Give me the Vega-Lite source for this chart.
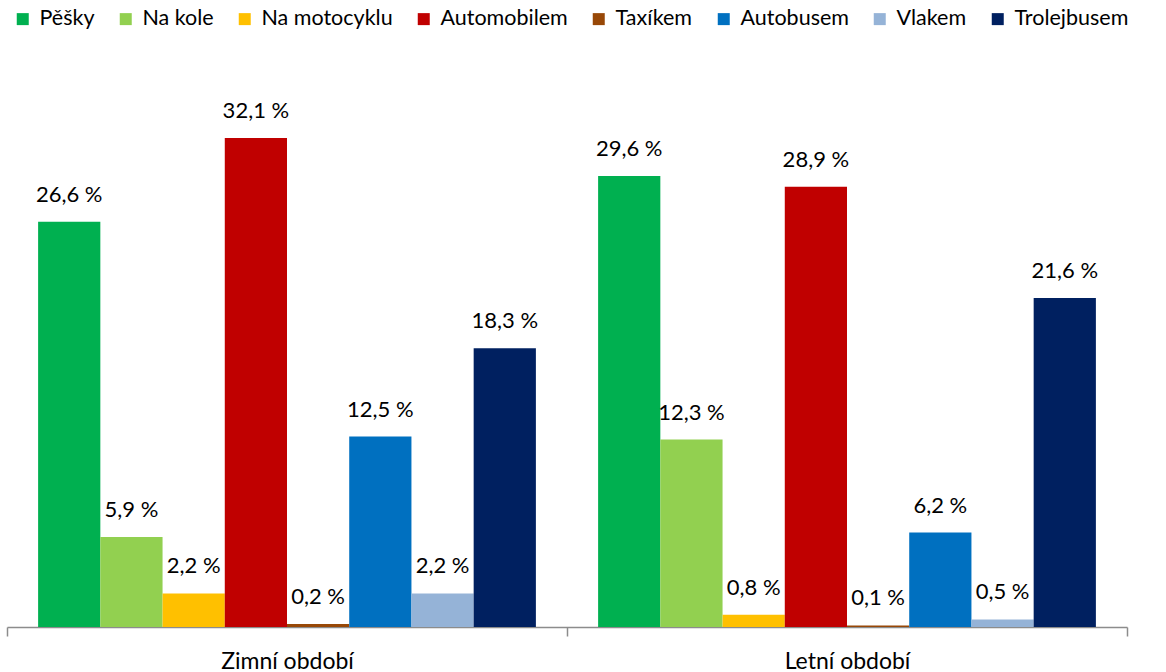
{
  "$schema": "https://vega.github.io/schema/vega-lite/v6.json",
  "width": 1120,
  "height": 579,
  "autosize": {"type": "none"},
  "padding": {"left": 7, "top": 48, "right": 39, "bottom": 45},
  "background": "white",
  "config": {
    "view": {"stroke": null},
    "font": "Lato"
  },
  "data": {
    "values": [
      {"obdobi": "Zimní období", "druh": "Pěšky", "v": 26.6},
      {"obdobi": "Zimní období", "druh": "Na kole", "v": 5.9},
      {"obdobi": "Zimní období", "druh": "Na motocyklu", "v": 2.2},
      {"obdobi": "Zimní období", "druh": "Automobilem", "v": 32.1},
      {"obdobi": "Zimní období", "druh": "Taxíkem", "v": 0.2},
      {"obdobi": "Zimní období", "druh": "Autobusem", "v": 12.5},
      {"obdobi": "Zimní období", "druh": "Vlakem", "v": 2.2},
      {"obdobi": "Zimní období", "druh": "Trolejbusem", "v": 18.3},
      {"obdobi": "Letní období", "druh": "Pěšky", "v": 29.6},
      {"obdobi": "Letní období", "druh": "Na kole", "v": 12.3},
      {"obdobi": "Letní období", "druh": "Na motocyklu", "v": 0.8},
      {"obdobi": "Letní období", "druh": "Automobilem", "v": 28.9},
      {"obdobi": "Letní období", "druh": "Taxíkem", "v": 0.1},
      {"obdobi": "Letní období", "druh": "Autobusem", "v": 6.2},
      {"obdobi": "Letní období", "druh": "Vlakem", "v": 0.5},
      {"obdobi": "Letní období", "druh": "Trolejbusem", "v": 21.6}
    ]
  },
  "transform": [
    {"calculate": "replace(format(datum.v, '.1f'), '.', ',') + ' %'", "as": "label"}
  ],
  "encoding": {
    "x": {
      "field": "obdobi", "type": "nominal",
      "sort": ["Zimní období", "Letní období"],
      "scale": {"paddingInner": 0, "paddingOuter": 0},
      "axis": {
        "title": null, "labelAngle": 0, "labelFontSize": 23, "labelColor": "#000000",
        "domainColor": "#8c8c8c", "domainWidth": 1.5, "tickColor": "#8c8c8c", "tickWidth": 1.5,
        "tickSize": 9, "tickBand": "extent", "labelPadding": 14
      }
    },
    "xOffset": {
      "field": "druh", "type": "nominal",
      "sort": ["Pěšky", "Na kole", "Na motocyklu", "Automobilem", "Taxíkem", "Autobusem", "Vlakem", "Trolejbusem"],
      "scale": {"paddingInner": 0, "paddingOuter": 0.5}
    },
    "y": {
      "field": "v", "type": "quantitative",
      "scale": {"domain": [0, 38], "nice": false},
      "axis": null
    }
  },
  "layer": [
    {
      "mark": {"type": "bar"},
      "encoding": {
        "color": {
          "field": "druh", "type": "nominal",
          "sort": ["Pěšky", "Na kole", "Na motocyklu", "Automobilem", "Taxíkem", "Autobusem", "Vlakem", "Trolejbusem"],
          "scale": {
            "domain": ["Pěšky", "Na kole", "Na motocyklu", "Automobilem", "Taxíkem", "Autobusem", "Vlakem", "Trolejbusem"],
            "range": ["#00B050", "#92D050", "#FFC000", "#C00000", "#984807", "#0070C0", "#95B3D7", "#002060"]
          },
          "legend": {
            "title": null, "orient": "none", "legendX": 5, "legendY": -40,
            "direction": "horizontal", "columns": 8, "symbolType": "square", "symbolSize": 144,
            "symbolStrokeWidth": 0, "labelFontSize": 21.5, "labelColor": "#000000", "labelOffset": 6,
            "columnPadding": 20, "labelLimit": 300
          }
        }
      }
    },
    {
      "mark": {"type": "text", "baseline": "bottom", "dy": -15, "fontSize": 22, "color": "#000000"},
      "encoding": {
        "text": {"field": "label", "type": "nominal"}
      }
    }
  ]
}
